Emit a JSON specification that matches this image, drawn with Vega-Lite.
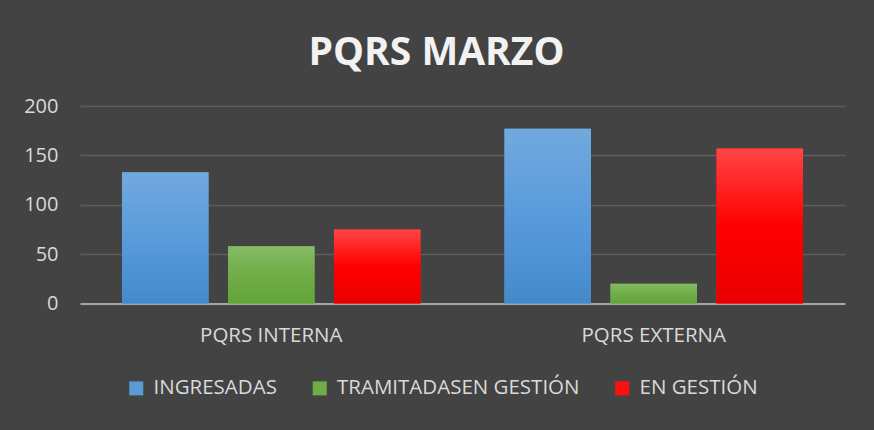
{
  "$schema": "https://vega.github.io/schema/vega-lite/v6.json",
  "autosize": "none",
  "width": 765,
  "height": 197.5,
  "padding": {"left": 80, "top": 106, "right": 29, "bottom": 126},
  "background": "#434343",
  "title": {"text": "PQRS MARZO", "font": "Open Sans", "fontSize": 39, "fontWeight": "bold", "color": "#f2f2f2", "anchor": "middle", "dx": -26, "offset": 23},
  "data": {"values": [
    {"grupo": "PQRS INTERNA", "estado": "INGRESADAS", "valor": 133},
    {"grupo": "PQRS INTERNA", "estado": "TRAMITADASEN GESTIÓN", "valor": 58},
    {"grupo": "PQRS INTERNA", "estado": "EN GESTIÓN", "valor": 75},
    {"grupo": "PQRS EXTERNA", "estado": "INGRESADAS", "valor": 177},
    {"grupo": "PQRS EXTERNA", "estado": "TRAMITADASEN GESTIÓN", "valor": 20},
    {"grupo": "PQRS EXTERNA", "estado": "EN GESTIÓN", "valor": 157}
  ]},
  "encoding": {
    "x": {"field": "grupo", "type": "nominal", "sort": ["PQRS INTERNA", "PQRS EXTERNA"],
      "scale": {"paddingInner": 0, "paddingOuter": 0},
      "axis": {"title": null, "labelAngle": 0, "labelFont": "Open Sans", "labelFontSize": 20.5, "labelColor": "#d9d9d9", "ticks": false, "domainColor": "#a6a6a6", "domainWidth": 2, "labelPadding": 22}},
    "xOffset": {"field": "estado", "type": "nominal", "sort": ["INGRESADAS", "TRAMITADASEN GESTIÓN", "EN GESTIÓN"],
      "scale": {"paddingInner": 0.184, "paddingOuter": 0.396}},
    "y": {"field": "valor", "type": "quantitative", "scale": {"domain": [0, 200]},
      "axis": {"values": [0, 50, 100, 150, 200], "title": null, "domain": false, "ticks": false, "labelFont": "Open Sans", "labelFontSize": 20, "labelColor": "#d9d9d9", "gridColor": "#5e5e5e", "gridWidth": 1.5, "labelPadding": 22}}
  },
  "layer": [
    {
      "mark": {"type": "bar"},
      "encoding": {
        "color": {"field": "estado", "type": "nominal", "sort": ["INGRESADAS", "TRAMITADASEN GESTIÓN", "EN GESTIÓN"],
          "scale": {"domain": ["INGRESADAS", "TRAMITADASEN GESTIÓN", "EN GESTIÓN"], "range": ["#5b9bd5", "#70ad47", "#ff1010"]},
          "legend": {"title": null, "orient": "none", "legendX": 46, "legendY": 272, "direction": "horizontal", "columns": 3, "columnPadding": 32.5, "symbolType": "square", "symbolSize": 196, "symbolOpacity": 1, "symbolStrokeWidth": 0, "labelFont": "Open Sans", "labelFontSize": 20.5, "labelColor": "#d9d9d9", "labelOffset": 7, "labelLimit": 400}}
      }
    },
    {
      "mark": {"type": "bar"},
      "encoding": {
        "color": {
          "condition": [
            {"test": "datum.estado === 'INGRESADAS'", "value": {"gradient": "linear", "x1": 0, "y1": 0, "x2": 0, "y2": 1, "stops": [{"offset": 0, "color": "#72a9de"}, {"offset": 0.5, "color": "#599bdc"}, {"offset": 1, "color": "#448aca"}]}},
            {"test": "datum.estado === 'EN GESTIÓN'", "value": {"gradient": "linear", "x1": 0, "y1": 0, "x2": 0, "y2": 1, "stops": [{"offset": 0, "color": "#ff4545"}, {"offset": 0.5, "color": "#ff0000"}, {"offset": 1, "color": "#e80000"}]}}
          ],
          "value": {"gradient": "linear", "x1": 0, "y1": 0, "x2": 0, "y2": 1, "stops": [{"offset": 0, "color": "#85bb67"}, {"offset": 0.5, "color": "#70ad47"}, {"offset": 1, "color": "#63a538"}]}
        }
      }
    }
  ],
  "config": {"view": {"stroke": null}}
}
